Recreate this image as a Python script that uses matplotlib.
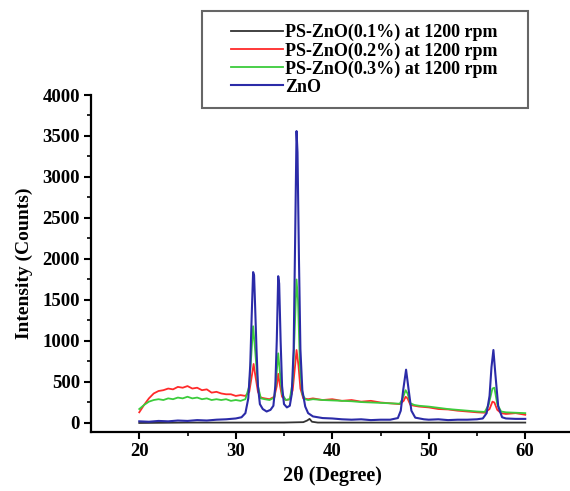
import numpy as np
import matplotlib.pyplot as plt
from matplotlib.ticker import FixedLocator
from matplotlib.patches import Rectangle

# ZnO (blue)
x_zno = [20.0, 21.0, 22.0, 23.0, 24.0, 25.0, 26.0, 27.0, 28.0, 29.0, 30.0, 30.6, 31.0, 31.3, 31.5, 31.65,
         31.8, 31.9, 32.0, 32.15, 32.3, 32.5, 32.8, 33.2, 33.6, 33.9, 34.1, 34.25, 34.4, 34.5, 34.65,
         34.8, 35.0, 35.3, 35.6, 35.8, 36.0, 36.15, 36.3, 36.4, 36.55, 36.7, 36.9, 37.2, 37.5, 38.0,
         38.5, 39.0, 40.0, 41.0, 42.0, 43.0, 44.0, 45.0, 46.0, 46.8, 47.1, 47.35, 47.65, 47.9,
         48.2, 48.6, 49.5, 50.0, 51.0, 52.0, 53.0, 54.0, 55.0, 55.6, 56.0, 56.3, 56.5, 56.7, 56.9,
         57.2, 57.6, 58.0, 59.0, 60.0]
y_zno = [20, 15, 25, 20, 30, 25, 35, 30, 40, 45, 55, 70, 120, 300, 700, 1300,
         1840, 1800, 1450, 900, 450, 230, 170, 140, 160, 210, 450, 1000, 1790, 1700, 1000,
         450, 230, 190, 210, 350, 900, 2200, 3560, 3300, 2000, 900, 400, 200, 120, 80,
         70, 60, 55, 45, 40, 45, 35, 40, 40, 60, 150, 400, 650, 420,
         150, 65, 45, 40, 45, 35, 40, 40, 45, 55, 120, 330, 680, 890, 600,
         200, 70, 55, 50, 50]

# PS-ZnO (0.2%) red
x_02 = [20.0, 20.5, 21.0, 21.5, 22.0, 22.5, 23.0, 23.5, 24.0, 24.5, 25.0, 25.5, 26.0, 26.5, 27.0, 27.5,
        28.0, 28.5, 29.0, 29.5, 30.0, 30.5, 31.0, 31.4, 31.7, 31.85, 32.0, 32.3, 32.6, 33.0, 33.5,
        34.0, 34.25, 34.4, 34.55, 34.8, 35.2, 35.6, 35.9, 36.15, 36.3, 36.5, 36.7, 37.0, 37.5, 38.0,
        39.0, 40.0, 41.0, 42.0, 43.0, 44.0, 45.0, 46.0, 47.0, 47.4, 47.6, 47.8, 48.1, 48.5, 49.0,
        50.0, 51.0, 52.0, 53.0, 54.0, 55.0, 55.8, 56.3, 56.6, 56.8, 57.1, 57.5, 58.0, 59.0, 60.0]
y_02 = [130, 220, 300, 360, 390, 400, 420, 410, 440, 430, 450, 420, 430, 400, 410, 370,
        380, 360, 350, 350, 330, 340, 330, 380, 600, 720, 600, 380, 310, 300, 290,
        320, 450, 600, 480, 320, 280, 290, 400, 700, 890, 700, 420, 300, 290, 300,
        280, 290, 270, 280, 260, 270, 250, 240, 230, 270, 320, 300, 220, 210, 200,
        190, 170, 165, 150, 140, 130, 125, 170, 260, 250, 160, 120, 110, 120, 100]

# PS-ZnO (0.3%) green
x_03 = [20.0, 20.5, 21.0, 21.5, 22.0, 22.5, 23.0, 23.5, 24.0, 24.5, 25.0, 25.5, 26.0, 26.5, 27.0, 27.5,
        28.0, 28.5, 29.0, 29.5, 30.0, 30.5, 31.0, 31.4, 31.65, 31.8, 32.0, 32.3, 32.6, 33.0, 33.5,
        34.0, 34.2, 34.4, 34.55, 34.8, 35.2, 35.6, 35.9, 36.1, 36.3, 36.45, 36.65, 36.9, 37.2, 37.5,
        38.0, 39.0, 40.0, 41.0, 42.0, 43.0, 44.0, 45.0, 46.0, 47.0, 47.3, 47.6, 47.8, 48.1, 48.5,
        49.0, 50.0, 51.0, 52.0, 53.0, 54.0, 55.0, 55.8, 56.2, 56.6, 56.8, 57.1, 57.5, 58.0, 59.0, 60.0]
y_03 = [170, 220, 260, 280, 290, 280, 300, 290, 310, 300, 320, 300, 310, 290, 300, 280,
        290, 280, 290, 270, 280, 270, 290, 450, 900, 1180, 900, 450, 300, 290, 280,
        310, 550, 850, 650, 350, 280, 290, 500, 1100, 1750, 1500, 700, 350, 290, 280,
        290, 280, 275, 270, 265, 255, 250, 245, 240, 235, 300, 400, 360, 240, 220,
        210, 200, 185, 170, 160, 150, 140, 135, 220, 420, 430, 230, 140, 130, 125, 120]

# PS-ZnO (0.1%) black
x_01 = [20, 25, 30, 35, 37, 37.4, 37.65, 37.9, 38.5, 40, 45, 50, 55, 60]
y_01 = [0, 5, 5, 5, 10, 30, 50, 15, 5, 5, 5, 5, 5, 5]

plt.rcParams['font.family'] = 'Liberation Serif'
plt.rcParams['font.weight'] = 'bold'

fig = plt.figure(figsize=(5.7, 4.91), dpi=100)
ax = fig.add_axes([91/570, 1-432/491, 482.5/570, 337/491])

ax.plot(x_01, y_01, color='#333333', lw=1.3, label='PS-ZnO(0.1%) at 1200 rpm')
ax.plot(x_02, y_02, color='#ff2a2a', lw=1.3, label='PS-ZnO(0.2%) at 1200 rpm')
ax.plot(x_03, y_03, color='#3ccc3c', lw=1.3, label='PS-ZnO(0.3%) at 1200 rpm')
ax.plot(x_zno, y_zno, color='#2b2ba8', lw=1.5, label='ZnO')

ax.set_xlim(15, 65)
ax.set_ylim(-110, 4000)
ax.spines['top'].set_visible(False)
ax.spines['right'].set_visible(False)
for s in ['left', 'bottom']:
    ax.spines[s].set_linewidth(1.6)

ax.xaxis.set_major_locator(FixedLocator([20, 30, 40, 50, 60]))
ax.xaxis.set_minor_locator(FixedLocator([25, 35, 45, 55]))
ax.yaxis.set_major_locator(FixedLocator(np.arange(0, 4001, 500)))
ax.yaxis.set_minor_locator(FixedLocator(np.arange(250, 4000, 500)))
ax.tick_params(which='major', direction='out', length=5, width=1.5, labelsize=13.5, pad=3)
ax.tick_params(which='minor', direction='out', length=3, width=1.2)

ax.set_xlabel('2θ (Degree)', fontsize=14.5, fontweight='bold', labelpad=4)
ax.set_ylabel('Intensity (Counts)', fontsize=14, fontweight='bold', labelpad=7)

# legend frame box (wider side padding than matplotlib's uniform borderpad)
box = Rectangle((202/570, 1-108/491), 326/570, 97/491, transform=fig.transFigure,
                fill=True, facecolor='white', edgecolor='#666666', lw=1.5, zorder=5)
fig.patches.append(box)

handles, labels = ax.get_legend_handles_labels()
leg = fig.legend(handles, labels, loc='upper left', bbox_to_anchor=(231/570, 1-24/491),
                 bbox_transform=fig.transFigure, fontsize=13, handlelength=2.9, handletextpad=0.1,
                 labelspacing=0.05, borderpad=0, borderaxespad=0, frameon=False)
leg.set_zorder(10)
for t in leg.get_texts():
    t.set_fontweight('bold')

plt.savefig('out.png', dpi=100)
